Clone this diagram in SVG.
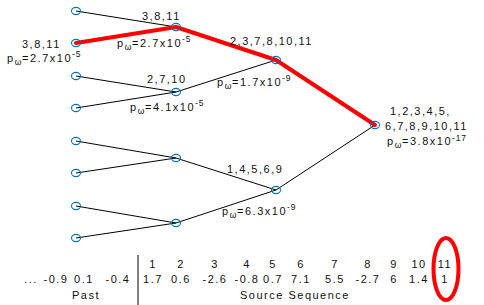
<svg xmlns="http://www.w3.org/2000/svg" width="484" height="305" viewBox="0 0 484 305">
<style>
.t{font-family:"Liberation Sans",Arial,Helvetica,sans-serif;font-size:11px;letter-spacing:1.5px;fill:#111}
.m{text-anchor:middle}
.s{font-size:8.5px;letter-spacing:0.8px}
.n{fill:none;stroke:#0072BD;stroke-width:1.1}
.e{stroke:#000;stroke-width:1;fill:none}
.r{stroke:#f00;stroke-width:4;fill:none;stroke-linecap:round;stroke-linejoin:round}
</style>
<rect width="484" height="305" fill="#fff"/>
<g id="connectors">
<line class="e" x1="76" y1="11" x2="176" y2="27"/>
<line class="e" x1="76" y1="76" x2="176" y2="92"/>
<line class="e" x1="76" y1="108" x2="176" y2="92"/>
<line class="e" x1="76" y1="141" x2="176" y2="158"/>
<line class="e" x1="76" y1="173" x2="176" y2="158"/>
<line class="e" x1="76" y1="206" x2="176" y2="223"/>
<line class="e" x1="76" y1="238" x2="176" y2="223"/>
<line class="e" x1="176" y1="92" x2="276" y2="60"/>
<line class="e" x1="176" y1="158" x2="276" y2="190"/>
<line class="e" x1="176" y1="223" x2="276" y2="190"/>
<line class="e" x1="276" y1="190" x2="375" y2="125"/>
<polyline class="r" points="76,43 176,27 276,60 375,125"/>
</g>
<g id="leaves">
<ellipse class="n" cx="76" cy="11" rx="4.5" ry="3.6"/>
<ellipse class="n" cx="76" cy="43" rx="4.5" ry="3.6"/>
<ellipse class="n" cx="76" cy="76" rx="4.5" ry="3.6"/>
<ellipse class="n" cx="76" cy="108" rx="4.5" ry="3.6"/>
<ellipse class="n" cx="76" cy="141" rx="4.5" ry="3.6"/>
<ellipse class="n" cx="76" cy="173" rx="4.5" ry="3.6"/>
<ellipse class="n" cx="76" cy="206" rx="4.5" ry="3.6"/>
<ellipse class="n" cx="76" cy="238" rx="4.5" ry="3.6"/>
</g>
<g id="n1a"><ellipse class="n" cx="176" cy="27" rx="4.5" ry="3.6"/></g>
<g id="n1b"><ellipse class="n" cx="176" cy="92" rx="4.5" ry="3.6"/></g>
<g id="n1c"><ellipse class="n" cx="176" cy="158" rx="4.5" ry="3.6"/></g>
<g id="n1d"><ellipse class="n" cx="176" cy="223" rx="4.5" ry="3.6"/></g>
<g id="n2a"><ellipse class="n" cx="276" cy="60" rx="4.5" ry="3.6"/></g>
<g id="n2b"><ellipse class="n" cx="276" cy="190" rx="4.5" ry="3.6"/></g>
<g id="root"><ellipse class="n" cx="375" cy="125" rx="4.5" ry="3.6"/></g>
<g id="labels">
<text class="t" x="22" y="48">3,8,11</text>
<text class="t" x="7" y="62">p<tspan class="s" dy="3">ω</tspan><tspan dy="-3">=2.7x10</tspan><tspan class="s" dy="-5">-5</tspan></text>
<text class="t" x="142" y="20">3,8,11</text>
<text class="t" x="117" y="47">p<tspan class="s" dy="3">ω</tspan><tspan dy="-3">=2.7x10</tspan><tspan class="s" dy="-5">-5</tspan></text>
<text class="t" x="147" y="83">2,7,10</text>
<text class="t" x="130" y="111">p<tspan class="s" dy="3">ω</tspan><tspan dy="-3">=4.1x10</tspan><tspan class="s" dy="-5">-5</tspan></text>
<text class="t" x="230" y="45">2,3,7,8,10,11</text>
<text class="t" x="217" y="86">p<tspan class="s" dy="3">ω</tspan><tspan dy="-3">=1.7x10</tspan><tspan class="s" dy="-5">-9</tspan></text>
<text class="t" x="227" y="173">1,4,5,6,9</text>
<text class="t" x="222" y="215">p<tspan class="s" dy="3">ω</tspan><tspan dy="-3">=6.3x10</tspan><tspan class="s" dy="-5">-9</tspan></text>
<text class="t" x="390" y="115">1,2,3,4,5,</text>
<text class="t" x="385" y="130">6,7,8,9,10,11</text>
<text class="t" x="387" y="145">p<tspan class="s" dy="3">ω</tspan><tspan dy="-3">=3.8x10</tspan><tspan class="s" dy="-4.5">-17</tspan></text>
</g>
<g id="sequence">
<line x1="138" y1="255" x2="138" y2="305" stroke="#000" stroke-width="1"/>
<g class="t m">
<text x="153" y="268">1</text><text x="181" y="268">2</text><text x="215" y="268">3</text><text x="247" y="268">4</text><text x="273" y="268">5</text><text x="301" y="268">6</text><text x="335" y="268">7</text><text x="368" y="268">8</text><text x="394" y="268">9</text><text x="419" y="268">10</text><text x="445" y="268">11</text>
<text x="31" y="283">...</text><text x="56" y="283">-0.9</text><text x="84" y="283">0.1</text><text x="118" y="283">-0.4</text><text x="153" y="283">1.7</text><text x="181" y="283">0.6</text><text x="215" y="283">-2.6</text><text x="247" y="283">-0.8</text><text x="273" y="283">0.7</text><text x="301" y="283">7.1</text><text x="335" y="283">5.5</text><text x="368" y="283">-2.7</text><text x="394" y="283">6</text><text x="419" y="283">1.4</text><text x="445" y="283">1</text>
<text x="86" y="299">Past</text><text x="295" y="299">Source Sequence</text>
</g>
<ellipse cx="446" cy="269" rx="12.5" ry="31" fill="none" stroke="#f00" stroke-width="4"/>
</g>
</svg>
